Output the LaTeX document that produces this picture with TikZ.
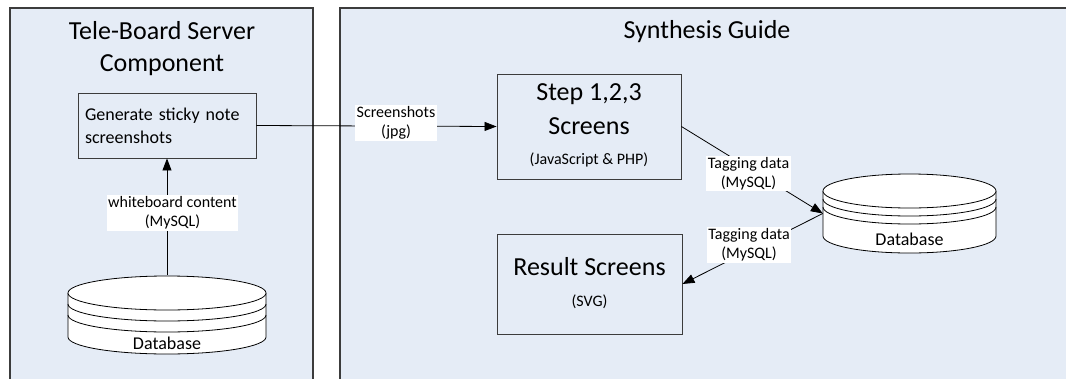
\documentclass[tikz,border=0pt]{standalone}
\usepackage{fontspec}
\setmainfont{Carlito}
\usetikzlibrary{arrows.meta}
\definecolor{panelfill}{HTML}{E5ECF6}
\definecolor{edgegray}{HTML}{3C3C3C}
\tikzset{
  panel/.style={draw=edgegray, line width=1.2pt, fill=panelfill},
  procbox/.style={draw=edgegray, line width=0.9pt, rectangle, inner sep=0pt},
  flow/.style={draw=black, line width=0.8pt, -{Triangle[length=12pt,width=9pt]}},
  lbl/.style={fill=white, font=\fontsize{16}{19}\selectfont, align=center, inner sep=1.5pt},
  title/.style={font=\fontsize{26}{32}\selectfont, align=center},
  big/.style={font=\fontsize{26}{31}\selectfont},
  small/.style={font=\fontsize{16}{19}\selectfont},
  dbline/.style={draw=black, line width=0.8pt},
  dbarea/.style={rectangle, draw=none, inner sep=0pt}
}
% stacked-disc database: #1 centre x, #2 top disc centre y, #3 bottom arc centre y,
% #4 half width, #5 disc half height, #6 gap of the first ring, #7 gap of the second ring
\newcommand\dbdrum[7]{%
  \fill[white] ({#1-#4},#2) -- ({#1-#4},#3)
     arc[start angle=180, end angle=360, x radius=#4pt, y radius=#5pt]
     -- ({#1+#4},#2) -- cycle;
  \draw[dbline] ({#1-#4},#2) -- ({#1-#4},#3)
     arc[start angle=180, end angle=360, x radius=#4pt, y radius=#5pt]
     -- ({#1+#4},#2);
  \draw[dbline, fill=white] (#1,#2) ellipse[x radius=#4pt, y radius=#5pt];
  \draw[dbline] ({#1-#4},{#2+#6})
     arc[start angle=180, end angle=360, x radius=#4pt, y radius=#5pt];
  \draw[dbline] ({#1-#4},{#2+#7})
     arc[start angle=180, end angle=360, x radius=#4pt, y radius=#5pt];
}

\begin{document}
\begin{tikzpicture}[x=1pt,y=-1pt]
\useasboundingbox (0,0) rectangle (1066,378);
\fill[white] (0,0) rectangle (1066,378);

% the two component panels
\path[panel] (10,8) rectangle (313,420);
\path[panel] (340,8) rectangle (1100,420);

\node[title] (ttl1) at (162,49) {Tele-Board Server\\Component};
\node[title] (ttl2) at (707,32) {Synthesis Guide};

% Tele-Board server side
\node[procbox, minimum width=178pt, minimum height=65pt, text width=164pt,
      align=left, font=\fontsize{18}{23}\selectfont] (gen) at (167,125.5)
      {Generate sticky note\\screenshots};

\dbdrum{167}{293}{337}{99}{17}{11}{22}
\node[dbarea, minimum width=198pt, minimum height=78pt] (db1) at (167,314) {};
\node[small, font=\fontsize{18}{22}\selectfont] (db1t) at (167,343) {Database};

% Synthesis guide side
\node[procbox, minimum width=184pt, minimum height=105pt] (step) at (589,126.5) {};
\node[big] (steptA) at (589,94) {Step 1,2,3};
\node[big] (steptB) at (589,126) {Screens};
\node[small] (steptC) at (589,160) {(JavaScript \& PHP)};

\node[procbox, minimum width=185pt, minimum height=100pt] (res) at (589.5,284) {};
\node[big] (restA) at (589.5,267) {Result Screens};
\node[small] (restB) at (589.5,302) {(SVG)};

\dbdrum{909.5}{191}{236}{86.5}{17}{8}{16}
\node[dbarea, minimum width=173pt, minimum height=79pt] (db2) at (909.5,213.5) {};
\node[small, font=\fontsize{18}{22}\selectfont] (db2t) at (909.5,239) {Database};

% data flows
\draw[flow] (db1.north) -- (gen.south);
\node[lbl] (l1) at (172.5,213) {whiteboard content\\(MySQL)};

\draw[flow] (gen.east) -- (step.west);
\node[lbl] (l2) at (396,123) {Screenshots\\(jpg)};

\draw[flow] (step.east) -- (db2.west);
\node[lbl] (l3) at (748.5,173.5) {Tagging data\\(MySQL)};

\draw[flow] (db2.west) -- (res.east);
\node[lbl] (l4) at (749,245) {Tagging data\\(MySQL)};
\end{tikzpicture}
\end{document}
